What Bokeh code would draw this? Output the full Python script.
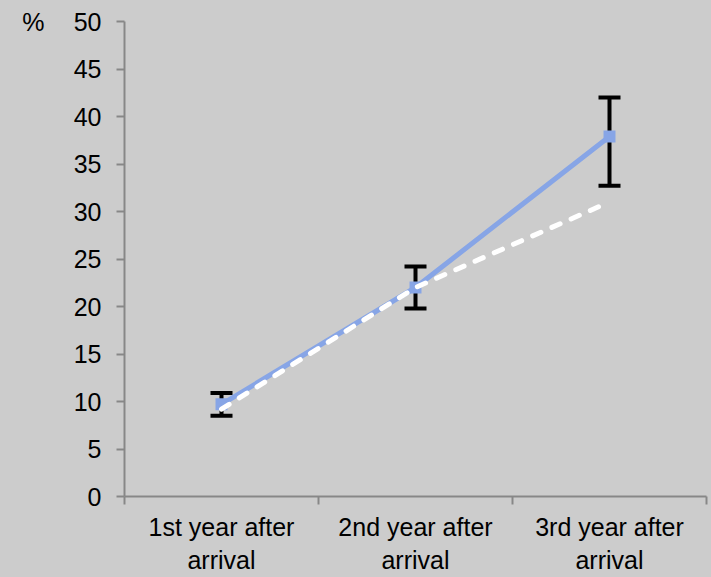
from bokeh.plotting import figure
from bokeh.models import Range1d, FixedTicker, Whisker, TeeHead, ColumnDataSource, LinearAxis
from bokeh.embed import file_html
from bokeh.resources import INLINE

categories = ["1st year after\narrival", "2nd year after\narrival", "3rd year after\narrival"]
observed = [9.7, 22.0, 37.9]
err_low = [8.5, 19.8, 32.7]
err_high = [10.9, 24.2, 42.0]
projected = [9.2, 22.0, 31.0]
y_ticks = [0, 5, 10, 15, 20, 25, 30, 35, 40, 45, 50]
y_unit = "%"

BG = "#cccccc"
AXC = "#878787"
BLUE = "#87a5e6"
FONT = "Liberation Sans"
FS = "25px"

xs = [i + 0.5 for i in range(len(categories))]
src = ColumnDataSource(dict(x=xs, obs=observed, lo=err_low, hi=err_high, proj=projected))

p = figure(width=711, height=577, output_backend="svg", toolbar_location=None,
           x_range=Range1d(0, len(categories)), y_range=Range1d(0, 50),
           min_border_left=124, min_border_right=5, min_border_top=21, min_border_bottom=73)
p.background_fill_color = BG
p.border_fill_color = BG
p.outline_line_color = None
p.grid.visible = False

p.line("x", "obs", source=src, line_color=BLUE, line_width=5)
p.scatter("x", "obs", source=src, marker="square", size=12, fill_color=BLUE, line_color=None)
p.line("x", "proj", source=src, line_color="white", line_width=5, line_dash="9 12",
       line_cap="round")

w = Whisker(base="x", lower="lo", upper="hi", source=src, line_color="black", line_width=4,
            upper_head=TeeHead(size=22, line_color="black", line_width=4),
            lower_head=TeeHead(size=22, line_color="black", line_width=4))
p.add_layout(w)

# x axis
p.xaxis.ticker = FixedTicker(ticks=xs, minor_ticks=list(range(len(categories) + 1)))
p.xaxis.major_label_overrides = {x: c for x, c in zip(xs, categories)}
p.xaxis.major_tick_line_color = None
p.xaxis.minor_tick_line_color = AXC
p.xaxis.minor_tick_line_width = 2
p.xaxis.minor_tick_out = 8
p.xaxis.minor_tick_in = 0
p.xaxis.major_label_standoff = 8
p.xaxis.major_label_text_line_height = 1.2

# y axis
p.yaxis.ticker = FixedTicker(ticks=y_ticks)
p.yaxis.major_tick_line_color = AXC
p.yaxis.major_tick_line_width = 2
p.yaxis.major_tick_out = 8
p.yaxis.major_tick_in = 0
p.yaxis.minor_tick_line_color = None
p.yaxis.major_label_standoff = 15

for ax in (p.xaxis, p.yaxis):
    ax.axis_line_color = AXC
    ax.axis_line_width = 2
    ax.major_label_text_font = FONT
    ax.major_label_text_font_size = FS
    ax.major_label_text_color = "black"

# unit label "%" at the top of the value axis
top = y_ticks[-1]
unit_axis = LinearAxis(ticker=FixedTicker(ticks=[top]), major_label_overrides={top: y_unit},
                       axis_line_color=None, major_tick_line_color=None, minor_tick_line_color=None,
                       major_tick_out=0, major_tick_in=0, major_label_standoff=26,
                       major_label_text_font=FONT, major_label_text_font_size=FS,
                       major_label_text_color="black")
p.add_layout(unit_axis, "left")

open("out.html", "w").write(file_html(p, INLINE).replace("<body>", '<body style="background-color:#cccccc;">'))
